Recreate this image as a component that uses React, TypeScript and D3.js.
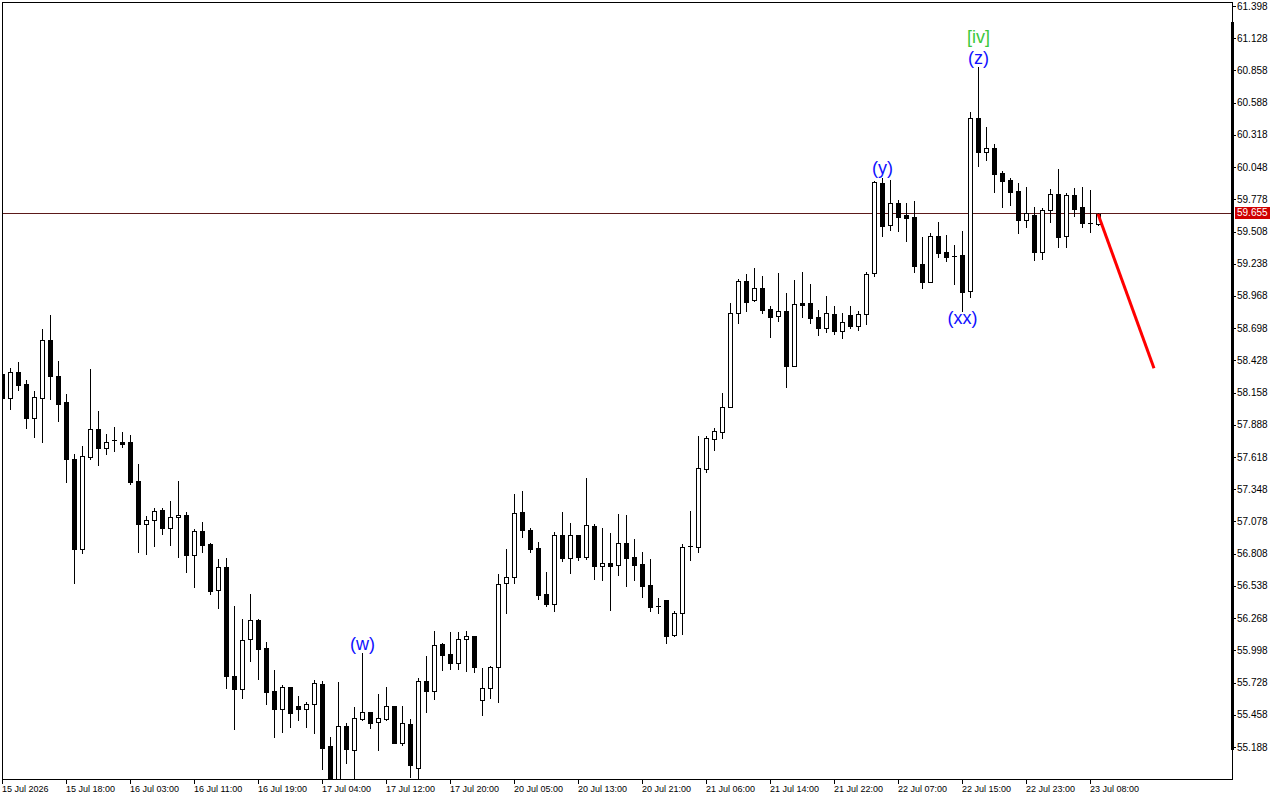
import React from "react";
import * as d3 from "d3";

const opens = [58.314,58.113,58.331,58.230,57.946,58.113,58.599,58.297,58.079,57.602,56.848,57.618,57.853,57.694,57.765,57.744,57.744,57.417,57.057,57.090,57.174,57.023,57.116,57.132,56.797,56.998,56.889,56.504,56.697,55.783,55.674,56.093,56.252,56.018,55.657,55.507,55.691,55.532,55.507,55.549,55.716,55.197,54.885,55.364,55.163,55.423,55.481,55.398,55.423,55.532,55.222,55.381,55.012,55.741,55.657,56.051,55.968,55.892,56.093,56.118,55.582,55.683,55.859,56.563,56.613,57.157,57.007,56.856,56.470,56.387,56.965,56.772,56.965,56.780,57.040,56.705,56.730,56.713,56.898,56.780,56.722,56.546,56.370,56.420,56.127,56.311,56.873,56.864,57.518,57.769,57.828,58.037,58.825,59.093,58.934,59.035,58.859,58.800,58.842,58.381,58.909,58.909,58.792,58.700,58.817,58.674,58.808,58.716,58.817,59.160,59.914,59.562,59.747,59.646,59.630,59.236,59.085,59.470,59.336,59.303,59.311,59.009,60.459,60.174,60.208,59.998,59.940,59.847,59.604,59.646,59.336,59.688,59.822,59.470,59.814,59.713,59.579,59.571];
const highs = [58.331,58.364,58.415,58.264,58.172,58.691,58.808,58.423,58.146,57.644,57.711,58.356,58.004,57.811,57.870,57.828,57.803,57.560,57.124,57.191,57.191,57.250,57.417,57.157,57.015,57.074,56.898,56.764,56.772,56.370,56.261,56.470,56.261,56.068,55.833,55.708,55.691,55.616,55.565,55.750,55.741,55.272,55.733,55.389,55.523,55.976,55.481,55.632,55.691,55.535,55.532,55.423,55.766,55.951,56.160,56.060,56.152,56.152,56.160,56.118,55.850,55.867,56.638,56.847,57.308,57.333,57.023,56.906,56.655,56.990,57.157,57.065,56.965,57.442,57.057,57.023,56.981,57.141,57.132,56.931,56.822,56.764,56.437,56.420,56.328,56.889,57.166,57.794,57.794,57.861,58.155,58.909,59.110,59.152,59.202,59.135,58.884,59.160,58.993,59.102,59.169,59.068,58.850,58.968,58.884,58.825,58.884,58.842,59.169,59.931,59.956,59.940,59.772,59.747,59.764,59.462,59.496,59.588,59.479,59.395,59.512,60.510,60.887,60.384,60.241,60.015,59.956,59.914,59.881,59.713,59.705,59.864,60.032,59.831,59.873,59.881,59.856,59.663];
const lows = [58.105,58.021,58.180,57.862,57.786,57.744,58.105,57.920,57.409,56.563,56.814,57.602,57.551,57.644,57.669,57.702,57.392,56.822,56.806,56.873,56.973,56.881,56.780,56.655,56.529,56.822,56.470,56.353,55.683,55.339,55.599,55.909,55.758,55.549,55.272,55.314,55.356,55.414,55.356,55.306,55.004,54.820,54.840,55.054,54.895,55.414,55.347,55.163,55.414,55.220,55.205,54.937,54.912,55.481,55.590,55.833,55.842,55.842,55.825,55.817,55.456,55.599,55.565,56.311,56.563,56.948,56.822,56.428,56.370,56.328,56.747,56.646,56.755,56.764,56.596,56.588,56.336,56.629,56.537,56.588,56.445,56.328,56.311,56.060,56.118,56.135,56.755,56.822,57.493,57.677,57.778,58.037,58.742,58.842,58.926,58.825,58.624,58.758,58.205,58.381,58.792,58.742,58.641,58.666,58.649,58.616,58.699,58.683,58.733,59.135,59.470,59.521,59.512,59.428,59.169,59.035,59.085,59.294,59.261,59.068,58.842,58.959,60.057,60.107,59.839,59.713,59.730,59.496,59.546,59.269,59.278,59.588,59.378,59.378,59.638,59.546,59.504,59.562];
const closes = [58.113,58.331,58.222,57.946,58.121,58.599,58.297,58.063,57.602,56.848,57.627,57.853,57.694,57.744,57.757,57.730,57.409,57.057,57.090,57.166,57.023,57.116,57.132,56.797,56.998,56.881,56.495,56.697,55.783,55.674,56.085,56.252,56.009,55.649,55.507,55.691,55.473,55.507,55.549,55.725,55.180,54.880,55.364,55.171,55.431,55.481,55.389,55.431,55.532,55.222,55.389,55.037,55.741,55.657,56.043,55.959,55.892,56.093,56.118,55.859,55.683,55.859,56.554,56.613,57.149,57.007,56.848,56.462,56.387,56.965,56.772,56.965,56.780,57.049,56.705,56.730,56.705,56.898,56.772,56.713,56.537,56.361,56.366,56.118,56.311,56.864,56.860,57.526,57.778,57.836,58.037,58.825,59.093,58.917,59.035,58.850,58.792,58.842,58.381,58.901,58.895,58.783,58.699,58.825,58.674,58.750,58.716,58.817,59.152,59.923,59.554,59.747,59.630,59.621,59.219,59.085,59.470,59.328,59.294,59.299,59.001,60.459,60.174,60.208,59.990,59.931,59.839,59.604,59.663,59.336,59.688,59.822,59.462,59.814,59.697,59.579,59.579,59.655];

const yTickLabels = ["61.398","61.128","60.858","60.588","60.318","60.048","59.778","59.508","59.238","58.968","58.698","58.428","58.158","57.888","57.618","57.348","57.078","56.808","56.538","56.268","55.998","55.728","55.458","55.188"];
const xTickBars = [0,8,16,24,32,40,48,56,64,72,80,88,96,104,112,120,128,136];
const xTickLabels = ["15 Jul 2026","15 Jul 18:00","16 Jul 03:00","16 Jul 11:00","16 Jul 19:00","17 Jul 04:00","17 Jul 12:00","17 Jul 20:00","20 Jul 05:00","20 Jul 13:00","20 Jul 21:00","21 Jul 06:00","21 Jul 14:00","21 Jul 22:00","22 Jul 07:00","22 Jul 15:00","22 Jul 23:00","23 Jul 08:00"];

const bidPrice = 59.655;
const forecastBars = [137, 144];
const forecastPrices = [59.655, 58.362];

const waveTexts = ["(w)", "(y)", "(xx)", "(z)", "[iv]"];
const waveBars = [45, 110, 120, 122, 122];
const wavePrices = [56.001, 59.986, 58.737, 60.916, 61.088];
const waveColors = ["#1010ff", "#1010ff", "#1010ff", "#1010ff", "#3cc83c"];

export default function App() {
  const W = 1280, H = 800;
  const L = 2, R = 1232, T = 2, B = 779;
  const x = d3.scaleLinear().domain([0, 137]).range([2, 1098]);
  const y = d3.scaleLinear().domain([55.188, 61.398]).range([747, 6]);
  const font = "'Liberation Sans', Arial, sans-serif";
  const bidY = Math.round(y(bidPrice)) - 0.5;

  const candles = opens.map((o, i) => {
    const c = closes[i];
    const cx = Math.round(x(i));
    const yo = y(o), yc = y(c);
    const top = Math.round(Math.min(yo, yc));
    const bot = Math.round(Math.max(yo, yc));
    const bull = c > o;
    const hh = bot - top;
    return (
      <g key={i}>
        <line x1={cx + 0.5} x2={cx + 0.5} y1={Math.round(y(highs[i]))} y2={Math.round(y(lows[i])) + 1} stroke="#000" strokeWidth={1} />
        {hh < 2 ? (
          <rect x={cx - 2} y={top} width={5} height={Math.max(1, hh)} fill="#000" />
        ) : bull ? (
          <rect x={cx - 1.5} y={top + 0.5} width={4} height={hh} fill="#fff" stroke="#000" strokeWidth={1} />
        ) : (
          <rect x={cx - 2} y={top} width={5} height={hh + 1} fill="#000" />
        )}
      </g>
    );
  });

  const fLine = d3.line<number>().x((_, i) => x(forecastBars[i])).y((p) => y(p));

  return (
    <div style={{ position: "absolute", left: 0, top: 0 }}>
      <svg width={W} height={H} style={{ display: "block", background: "#fff" }}>
        <defs>
          <clipPath id="plot">
            <rect x={L} y={T} width={R - L} height={B - T} />
          </clipPath>
        </defs>
        <rect x={0} y={0} width={W} height={H} fill="#fff" />
        <g clipPath="url(#plot)" shapeRendering="crispEdges">
          <line x1={L} x2={R} y1={bidY} y2={bidY} stroke="#5c1a1a" strokeWidth={1} />
          {candles}
        </g>
        <path d={fLine(forecastPrices) || ""} stroke="#ff0000" strokeWidth={3} fill="none" />
        {waveTexts.map((t, i) => (
          <text key={t} x={x(waveBars[i]) + 0.5} y={y(wavePrices[i])} textAnchor="middle" fontFamily={font} fontSize={18} fill={waveColors[i]}>
            {t}
          </text>
        ))}
        <g shapeRendering="crispEdges">
          <rect x={L + 0.5} y={T + 0.5} width={R - L} height={B - T} fill="none" stroke="#000" strokeWidth={1} />
          <rect x={R - 1.5} y={22} width={3} height={728} fill="#000" />
          {yTickLabels.map((t) => (
            <line key={t} x1={R} x2={R + 4} y1={Math.round(y(+t)) + 0.5} y2={Math.round(y(+t)) + 0.5} stroke="#000" />
          ))}
          {xTickBars.map((b) => (
            <line key={b} x1={Math.round(x(b)) + 0.5} x2={Math.round(x(b)) + 0.5} y1={B} y2={B + 5} stroke="#000" />
          ))}
        </g>
        {yTickLabels.map((t) => (
          <text key={t} x={R + 5} y={y(+t)} dy="0.35em" fontFamily={font} fontSize={10} fill="#000">
            {t}
          </text>
        ))}
        {xTickLabels.map((t, i) => (
          <text key={t} x={Math.round(x(xTickBars[i]))} y={B + 13} fontFamily={font} fontSize={9} fill="#000">
            {t}
          </text>
        ))}
        <rect x={R + 3} y={Math.round(y(bidPrice)) - 7} width={35} height={12} fill="#d00000" shapeRendering="crispEdges" />
        <text x={R + 5} y={y(bidPrice) - 1} dy="0.35em" fontFamily={font} fontSize={10} fill="#fff">
          {bidPrice.toFixed(3)}
        </text>
      </svg>
    </div>
  );
}
